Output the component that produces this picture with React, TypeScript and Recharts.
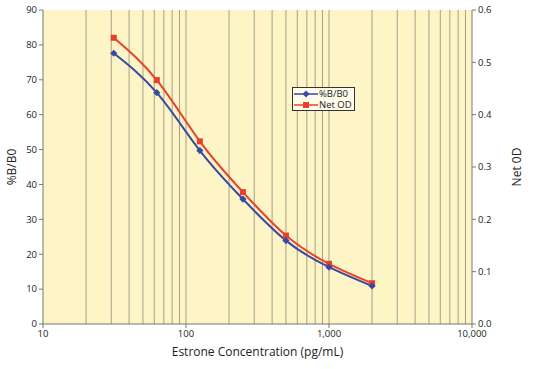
import {
  CartesianGrid,
  ComposedChart,
  Line,
  ReferenceLine,
  XAxis,
  YAxis,
} from "recharts";

// standard curve, pg/mL
const concentracion = [31.25, 62.5, 125, 250, 500, 1000, 2000];
const pctB = [77.6, 66.3, 49.7, 35.8, 23.9, 16.3, 10.9];
const netOD = [0.547, 0.466, 0.349, 0.252, 0.169, 0.115, 0.078];

const xTicks = [10, 100, 1000, 10000];
const leftTicks = [0, 10, 20, 30, 40, 50, 60, 70, 80, 90];
const rightTicks = [0, 0.1, 0.2, 0.3, 0.4, 0.5, 0.6];
const minorX = [
  20, 30, 40, 50, 60, 70, 80, 90, 100, 200, 300, 400, 500, 600, 700, 800, 900,
  1000, 2000, 3000, 4000, 5000, 6000, 7000, 8000, 9000,
];

const datos = concentracion.map((c, i) => ({ c, b: pctB[i], od: netOD[i] }));

const AZUL = "#3a49a3";
const ROJO = "#e8412b";
const GRID = "#a59f88";
const FUENTE = "'Open Sans', sans-serif";

function Diamante({ cx, cy }: { cx?: number; cy?: number }) {
  if (cx == null || cy == null) return null;
  const r = 3.6;
  return (
    <polygon
      points={`${cx},${cy - r} ${cx + r},${cy} ${cx},${cy + r} ${cx - r},${cy}`}
      fill={AZUL}
    />
  );
}

function Cuadro({ cx, cy }: { cx?: number; cy?: number }) {
  if (cx == null || cy == null) return null;
  return <rect x={cx - 3} y={cy - 3} width={6} height={6} fill={ROJO} />;
}

function Leyenda() {
  const fila = (color: string, texto: string, marca: "d" | "s") => (
    <div style={{ display: "flex", alignItems: "center", height: 11 }}>
      <svg width={24} height={10}>
        <line x1={0} y1={5} x2={24} y2={5} stroke={color} strokeWidth={1.5} />
        {marca === "d" ? (
          <polygon points="12,1.5 15.5,5 12,8.5 8.5,5" fill={color} />
        ) : (
          <rect x={9} y={2} width={6} height={6} fill={color} />
        )}
      </svg>
      <span style={{ marginLeft: 1, lineHeight: "10px" }}>{texto}</span>
    </div>
  );
  return (
    <div
      style={{
        position: "absolute",
        left: 292,
        top: 87,
        width: 60,
        border: "1px solid #333",
        background: "#fffcec",
        padding: "0px 0px 0px 1px",
        fontSize: 9.5,
        fontFamily: FUENTE,
        color: "#222",
      }}
    >
      {fila(AZUL, "%B/B0", "d")}
      {fila(ROJO, "Net OD", "s")}
    </div>
  );
}

export default function App() {
  return (
    <div style={{ width: 533, height: 369, position: "relative" }}>
      <style>{`body{margin:0}`}</style>
      <ComposedChart
        width={533}
        height={369}
        data={datos}
        margin={{ top: 10, right: 0, left: 0, bottom: 25 }}
      >
        <CartesianGrid
          fill="#fef5c6"
          stroke={GRID}
          vertical={false}
          horizontalValues={leftTicks}
        />
        {minorX.map((v) => (
          <ReferenceLine
            key={v}
            yAxisId="izq"
            x={v}
            stroke={GRID}
            strokeWidth={1}
          />
        ))}
        <XAxis
          dataKey="c"
          type="number"
          scale="log"
          domain={[10, 10000]}
          ticks={xTicks}
          allowDataOverflow
          height={20}
          stroke="#777"
          tick={{ fill: "#222", fontSize: 9.5, fontFamily: FUENTE }}
          tickSize={4}
          tickFormatter={(v: number) => v.toLocaleString("en-US")}
          label={{
            value: "Estrone Concentration (pg/mL)",
            position: "insideBottom",
            offset: -12,
            style: { fill: "#222", fontSize: 12, fontFamily: FUENTE },
          }}
        />
        <YAxis
          yAxisId="izq"
          domain={[0, 90]}
          ticks={leftTicks}
          width={43}
          stroke="#777"
          tick={{ fill: "#222", fontSize: 9.5, fontFamily: FUENTE }}
          tickSize={4}
          label={{
            value: "%B/B0",
            angle: -90,
            position: "insideLeft",
            offset: 12,
            style: {
              textAnchor: "middle",
              fill: "#222",
              fontSize: 12,
              fontFamily: FUENTE,
            },
          }}
        />
        <YAxis
          yAxisId="der"
          orientation="right"
          domain={[0, 0.6]}
          ticks={rightTicks}
          width={61}
          stroke="#777"
          tick={{ fill: "#222", fontSize: 9.5, fontFamily: FUENTE }}
          tickSize={4}
          tickFormatter={(v: number) => v.toFixed(1)}
          label={{
            value: "Net 0D",
            angle: -90,
            position: "insideRight",
            offset: 16,
            style: {
              textAnchor: "middle",
              fill: "#222",
              fontSize: 12,
              fontFamily: FUENTE,
            },
          }}
        />
        <Line
          yAxisId="der"
          dataKey="od"
          name="Net OD"
          type="natural"
          stroke={ROJO}
          strokeWidth={2}
          dot={<Cuadro />}
          isAnimationActive={false}
        />
        <Line
          yAxisId="izq"
          dataKey="b"
          name="%B/B0"
          type="natural"
          stroke={AZUL}
          strokeWidth={2}
          dot={<Diamante />}
          isAnimationActive={false}
        />
      </ComposedChart>
      <Leyenda />
    </div>
  );
}
